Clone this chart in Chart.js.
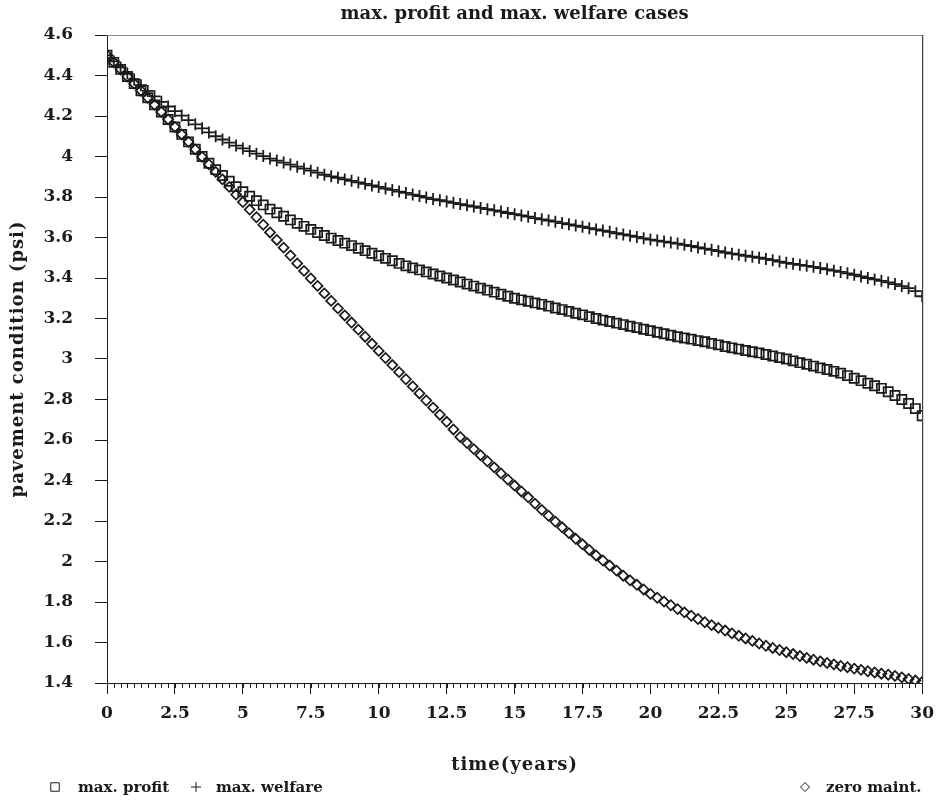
<!DOCTYPE html>
<html>
<head>
<title>max. profit and max. welfare cases</title>
<style>
  body { margin: 0; background: #fff; }
  canvas { display: block; }
</style>
</head>
<body>
<canvas id="chart" width="943" height="802"></canvas>
<script src="https://cdn.jsdelivr.net/npm/chart.js@4.4.1/dist/chart.umd.min.js"></script>
<script>
// time axis (years), sampled every quarter year
const years = [
  0, 0.25, 0.5, 0.75, 1, 1.25, 1.5, 1.75, 2, 2.25, 2.5, 2.75, 3, 3.25, 3.5, 3.75,
  4, 4.25, 4.5, 4.75, 5, 5.25, 5.5, 5.75, 6, 6.25, 6.5, 6.75, 7, 7.25, 7.5, 7.75,
  8, 8.25, 8.5, 8.75, 9, 9.25, 9.5, 9.75, 10, 10.25, 10.5, 10.75, 11, 11.25, 11.5, 11.75,
  12, 12.25, 12.5, 12.75, 13, 13.25, 13.5, 13.75, 14, 14.25, 14.5, 14.75, 15, 15.25, 15.5, 15.75,
  16, 16.25, 16.5, 16.75, 17, 17.25, 17.5, 17.75, 18, 18.25, 18.5, 18.75, 19, 19.25, 19.5, 19.75,
  20, 20.25, 20.5, 20.75, 21, 21.25, 21.5, 21.75, 22, 22.25, 22.5, 22.75, 23, 23.25, 23.5, 23.75,
  24, 24.25, 24.5, 24.75, 25, 25.25, 25.5, 25.75, 26, 26.25, 26.5, 26.75, 27, 27.25, 27.5, 27.75,
  28, 28.25, 28.5, 28.75, 29, 29.25, 29.5, 29.75, 30
];

// pavement condition (psi)
const maxProfit = [
  4.500, 4.465, 4.430, 4.395, 4.360, 4.325, 4.290, 4.255, 4.220, 4.183, 4.146, 4.109, 4.072, 4.036, 4.000, 3.967,
  3.935, 3.906, 3.878, 3.851, 3.826, 3.804, 3.782, 3.761, 3.740, 3.722, 3.705, 3.687, 3.670, 3.655, 3.640, 3.625,
  3.610, 3.597, 3.585, 3.572, 3.560, 3.547, 3.535, 3.522, 3.510, 3.497, 3.485, 3.472, 3.460, 3.450, 3.440, 3.430,
  3.420, 3.410, 3.400, 3.390, 3.380, 3.370, 3.360, 3.350, 3.340, 3.330, 3.320, 3.310, 3.300, 3.292, 3.285, 3.277,
  3.270, 3.261, 3.252, 3.244, 3.235, 3.226, 3.218, 3.209, 3.200, 3.192, 3.185, 3.177, 3.170, 3.162, 3.155, 3.147,
  3.140, 3.132, 3.125, 3.117, 3.110, 3.104, 3.098, 3.091, 3.085, 3.077, 3.070, 3.062, 3.055, 3.049, 3.042, 3.036,
  3.030, 3.022, 3.015, 3.007, 3.000, 2.991, 2.982, 2.974, 2.965, 2.956, 2.948, 2.939, 2.930, 2.918, 2.905, 2.893,
  2.880, 2.868, 2.855, 2.838, 2.820, 2.800, 2.780, 2.755, 2.720
];

const maxWelfare = [
  4.500, 4.470, 4.440, 4.410, 4.380, 4.352, 4.324, 4.297, 4.270, 4.247, 4.224, 4.202, 4.180, 4.159, 4.139, 4.119,
  4.100, 4.084, 4.069, 4.054, 4.040, 4.027, 4.014, 4.002, 3.990, 3.980, 3.970, 3.960, 3.950, 3.940, 3.930, 3.920,
  3.910, 3.902, 3.895, 3.887, 3.880, 3.872, 3.865, 3.857, 3.850, 3.842, 3.835, 3.827, 3.820, 3.812, 3.805, 3.797,
  3.790, 3.784, 3.778, 3.771, 3.765, 3.759, 3.753, 3.746, 3.740, 3.734, 3.728, 3.721, 3.715, 3.709, 3.703, 3.696,
  3.690, 3.684, 3.678, 3.671, 3.665, 3.659, 3.653, 3.646, 3.640, 3.634, 3.628, 3.621, 3.615, 3.609, 3.603, 3.596,
  3.590, 3.585, 3.580, 3.575, 3.570, 3.564, 3.558, 3.551, 3.545, 3.539, 3.533, 3.526, 3.520, 3.515, 3.510, 3.505,
  3.500, 3.494, 3.488, 3.481, 3.475, 3.470, 3.465, 3.460, 3.455, 3.449, 3.443, 3.436, 3.430, 3.423, 3.416, 3.408,
  3.400, 3.393, 3.386, 3.378, 3.370, 3.360, 3.350, 3.335, 3.310
];

const zeroMaint = [
  4.500, 4.465, 4.430, 4.395, 4.360, 4.325, 4.290, 4.255, 4.220, 4.183, 4.146, 4.109, 4.072, 4.035, 3.998, 3.961,
  3.924, 3.887, 3.850, 3.812, 3.775, 3.738, 3.700, 3.663, 3.625, 3.588, 3.550, 3.511, 3.472, 3.435, 3.398, 3.361,
  3.324, 3.287, 3.250, 3.215, 3.180, 3.145, 3.110, 3.075, 3.040, 3.005, 2.970, 2.935, 2.900, 2.865, 2.830, 2.795,
  2.760, 2.725, 2.690, 2.652, 2.615, 2.585, 2.555, 2.525, 2.495, 2.465, 2.435, 2.405, 2.375, 2.346, 2.317, 2.286,
  2.255, 2.226, 2.197, 2.169, 2.140, 2.112, 2.085, 2.057, 2.030, 2.005, 1.980, 1.955, 1.930, 1.907, 1.885, 1.862,
  1.840, 1.821, 1.802, 1.784, 1.765, 1.749, 1.732, 1.716, 1.700, 1.686, 1.672, 1.659, 1.645, 1.633, 1.620, 1.608,
  1.595, 1.584, 1.573, 1.563, 1.552, 1.543, 1.533, 1.524, 1.515, 1.507, 1.499, 1.492, 1.484, 1.478, 1.471, 1.465,
  1.458, 1.452, 1.446, 1.441, 1.435, 1.428, 1.420, 1.412, 1.405
];

const seriesLabels = ['max. profit', 'max. welfare', 'zero maint.'];
const chartTitle = 'max. profit and max. welfare cases';
const xTitle = 'time(years)';
const yTitle = 'pavement condition (psi)';

const ink = '#1a1a1a';
const serif = '"DejaVu Serif", serif';

function pts(values) {
  return values.map((v, i) => ({ x: years[i], y: v }));
}

// title, axis titles, frame, minor ticks and the spread-out legend
const decorations = {
  id: 'decorations',
  afterDraw(chart) {
    const { ctx, chartArea: a, scales } = chart;
    ctx.save();

    // top border (light) and right border
    ctx.lineWidth = 1;
    ctx.strokeStyle = '#8a8a8a';
    ctx.beginPath();
    ctx.moveTo(a.left, a.top + 0.5);
    ctx.lineTo(a.right, a.top + 0.5);
    ctx.stroke();
    ctx.strokeStyle = ink;
    ctx.beginPath();
    ctx.moveTo(a.right + 0.5, a.top);
    ctx.lineTo(a.right + 0.5, a.bottom);
    ctx.stroke();

    // minor ticks under the bottom axis, one per sample
    ctx.beginPath();
    years.forEach(t => {
      const x = Math.round(scales.x.getPixelForValue(t)) + 0.5;
      ctx.moveTo(x, a.bottom);
      ctx.lineTo(x, a.bottom + 5);
    });
    ctx.stroke();

    ctx.fillStyle = ink;
    ctx.textAlign = 'center';
    ctx.textBaseline = 'middle';

    ctx.font = 'bold 18px ' + serif;
    ctx.fillText(chartTitle, (a.left + a.right) / 2, 14);

    ctx.letterSpacing = '1px';
    ctx.fillText(xTitle, (a.left + a.right) / 2, 765);

    ctx.save();
    ctx.translate(18, (a.top + a.bottom) / 2);
    ctx.rotate(-Math.PI / 2);
    ctx.fillText(yTitle, 0, 0);
    ctx.restore();
    ctx.letterSpacing = '0px';

    // legend
    const legendY = 787;
    const items = [
      { sym: 55, txt: 78 },
      { sym: 196, txt: 216 },
      { sym: 805, txt: 826 }
    ];
    ctx.font = 'bold 15px ' + serif;
    ctx.textAlign = 'left';
    chart.data.datasets.forEach((ds, i) => {
      ctx.strokeStyle = ink;
      ctx.fillStyle = 'rgba(0,0,0,0)';
      Chart.helpers.drawPoint(ctx, {
        pointStyle: ds.pointStyle,
        radius: ds.legendRadius,
        borderWidth: 1.2,
        rotation: 0
      }, items[i].sym, legendY);
      ctx.fillStyle = ink;
      ctx.fillText(ds.label, items[i].txt, legendY + 1);
    });

    ctx.restore();
  }
};

new Chart(document.getElementById('chart'), {
  type: 'scatter',
  data: {
    datasets: [
      {
        label: seriesLabels[0],
        data: pts(maxProfit),
        pointStyle: 'rect',
        pointRadius: 6.5,
        legendRadius: 6,
        borderColor: ink,
        backgroundColor: 'rgba(0,0,0,0)',
        borderWidth: 1.7
      },
      {
        label: seriesLabels[1],
        data: pts(maxWelfare),
        pointStyle: 'cross',
        pointRadius: 6,
        legendRadius: 5,
        borderColor: ink,
        backgroundColor: 'rgba(0,0,0,0)',
        borderWidth: 1.8
      },
      {
        label: seriesLabels[2],
        data: pts(zeroMaint),
        pointStyle: 'rectRot',
        pointRadius: 5,
        legendRadius: 4.5,
        borderColor: ink,
        backgroundColor: 'rgba(0,0,0,0)',
        borderWidth: 1.7
      }
    ]
  },
  options: {
    responsive: false,
    animation: false,
    devicePixelRatio: 1,
    layout: { padding: { left: 0, top: 35, right: 20, bottom: 0 } },
    plugins: {
      legend: { display: false },
      title: { display: false },
      tooltip: { enabled: false }
    },
    scales: {
      x: {
        type: 'linear',
        min: 0,
        max: 30,
        afterFit(s) { s.height = 119; },
        ticks: {
          stepSize: 2.5,
          color: ink,
          padding: 9,
          maxRotation: 0,
          font: { family: serif, size: 17, weight: 'bold' },
          callback: v => String(v)
        },
        grid: { drawOnChartArea: false, drawTicks: true, tickLength: 11, color: ink },
        border: { color: ink, width: 1 }
      },
      y: {
        type: 'linear',
        min: 1.4,
        max: 4.6,
        afterFit(s) { s.width = 107; },
        ticks: {
          stepSize: 0.2,
          color: ink,
          padding: 22,
          font: { family: serif, size: 17, weight: 'bold' },
          callback: v => String(Math.round(v * 10) / 10)
        },
        grid: { drawOnChartArea: false, drawTicks: true, tickLength: 12, color: ink },
        border: { color: ink, width: 1 }
      }
    }
  },
  plugins: [decorations]
});
</script>
</body>
</html>
